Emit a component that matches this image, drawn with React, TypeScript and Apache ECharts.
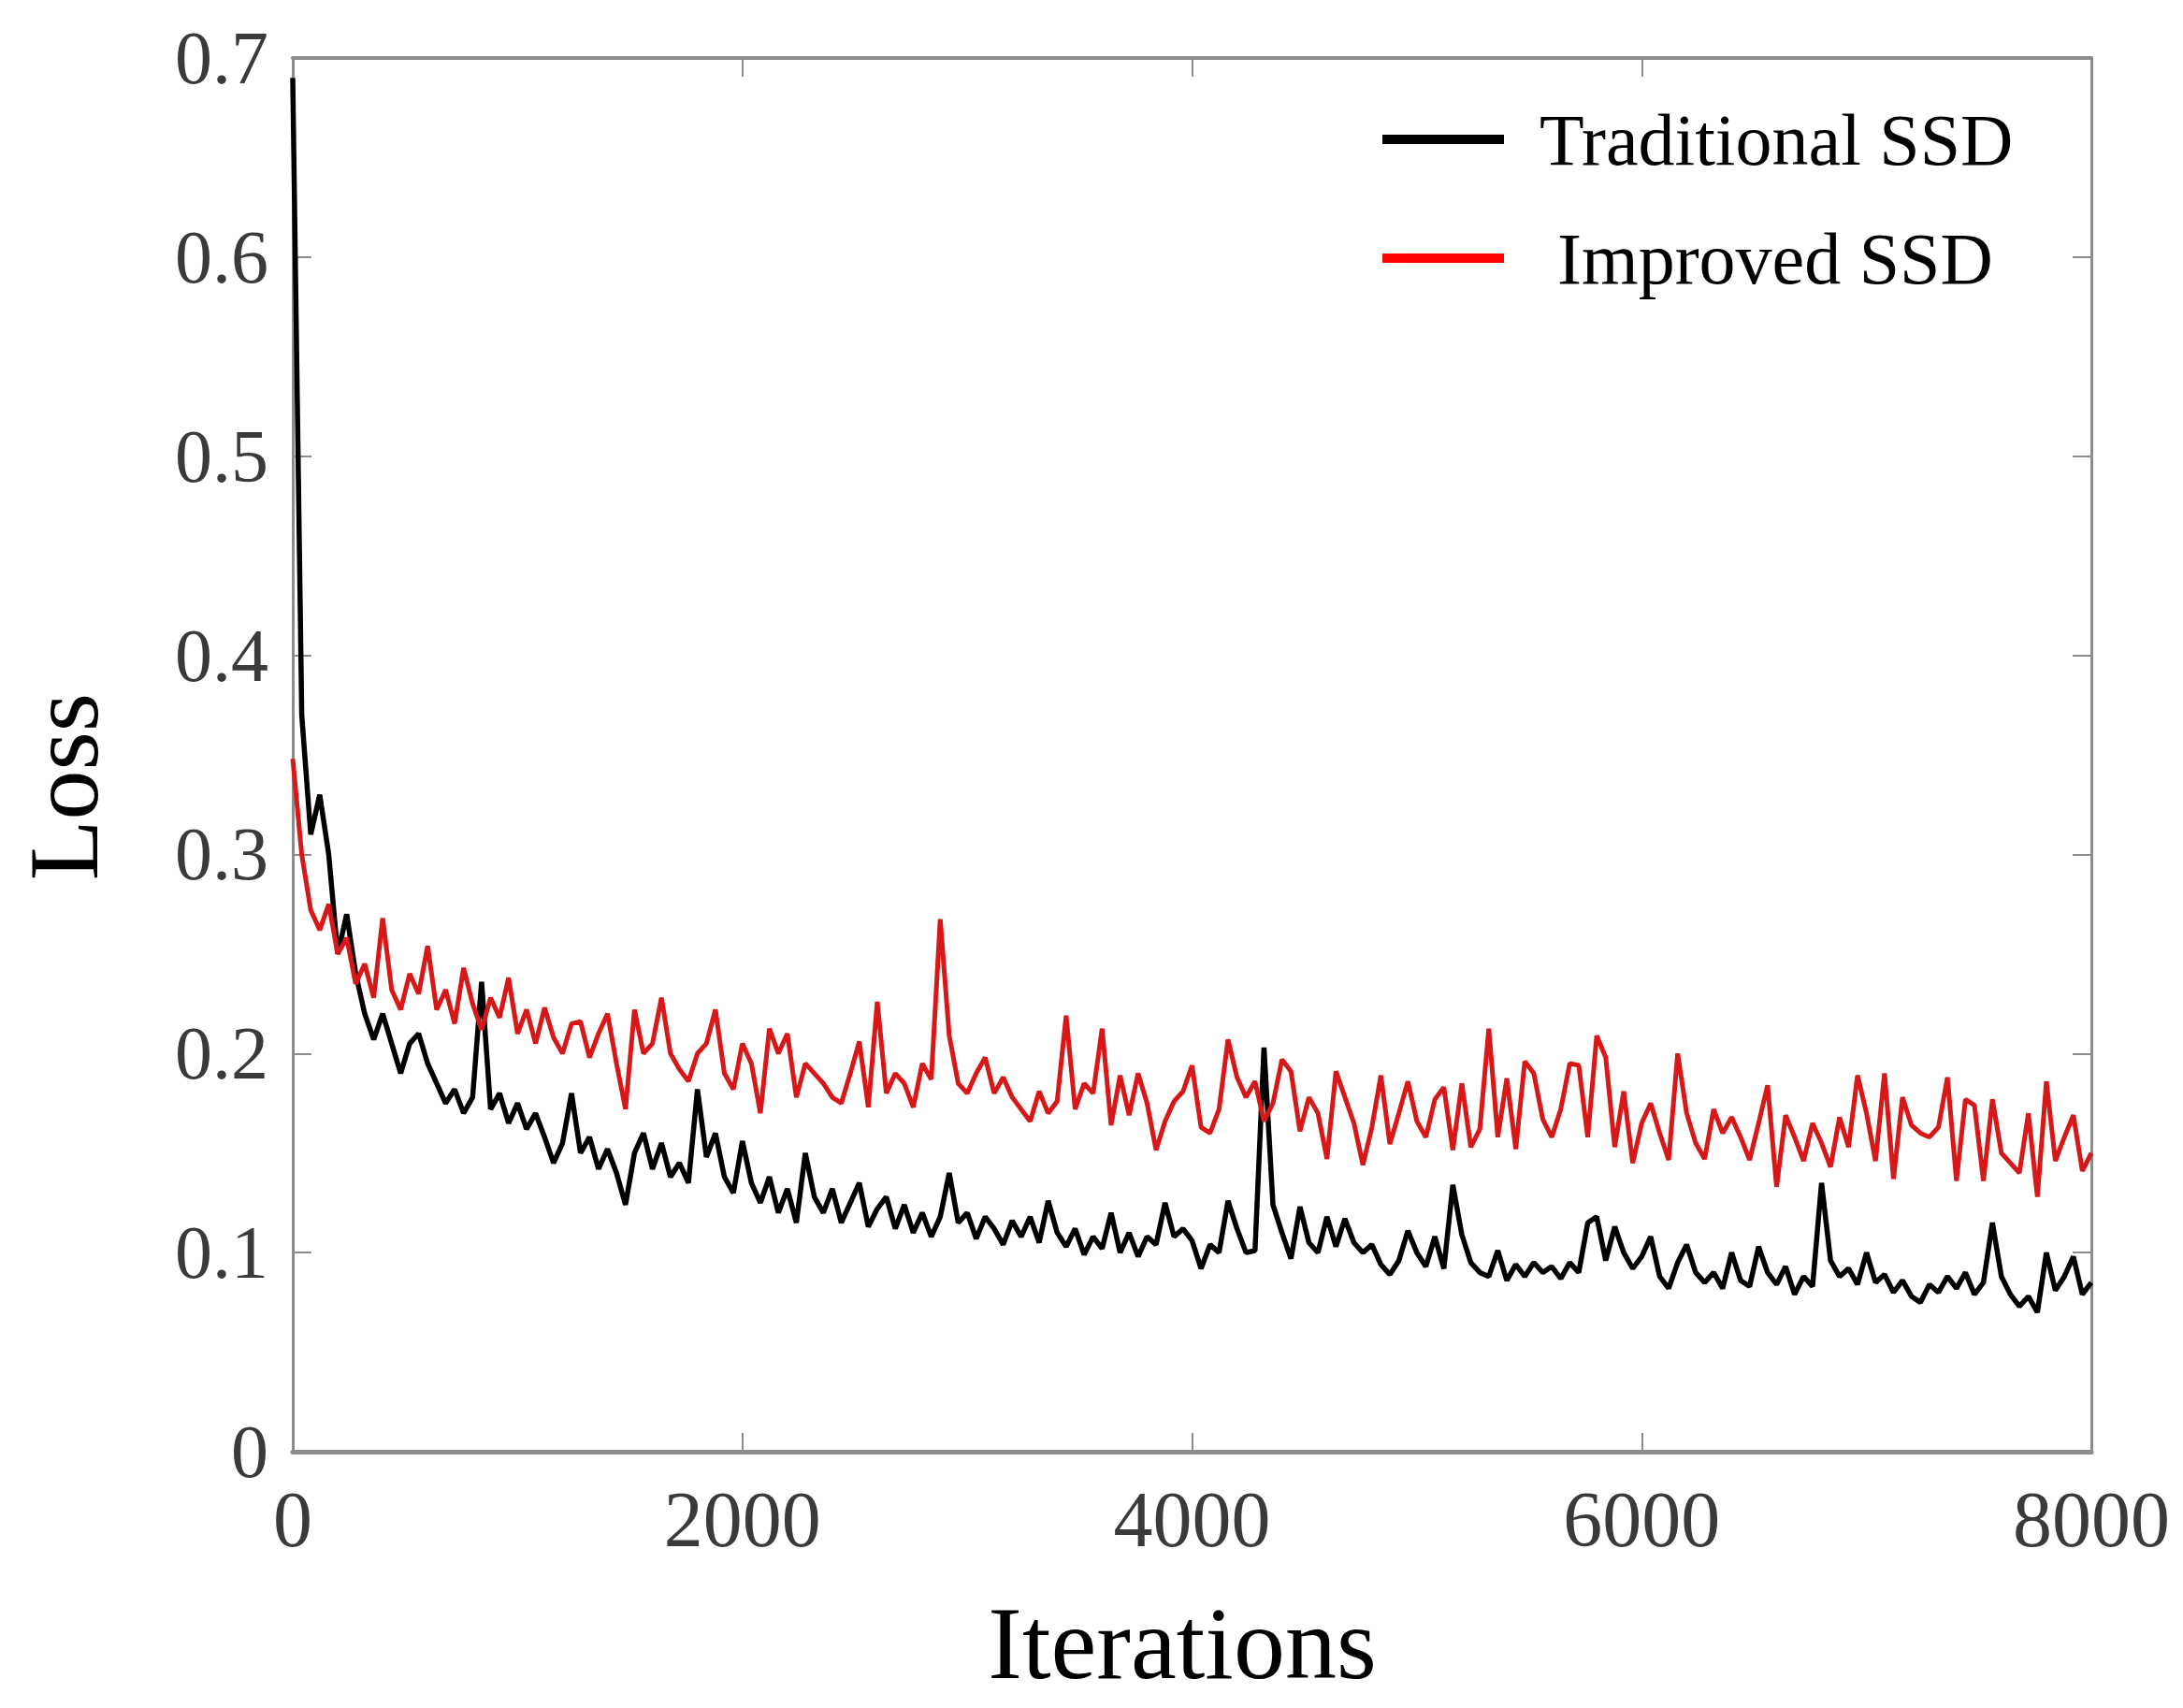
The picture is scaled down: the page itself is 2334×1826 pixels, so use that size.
import React, { useEffect, useRef } from "react";
import * as echarts from "echarts";

// Iteration step between consecutive samples
const STEP = 40;

// Traditional SSD loss, one value every 40 iterations (0 .. 8000)
const traditionalLoss = [
  0.69, 0.37, 0.31, 0.33, 0.30, 0.25, 0.27, 0.24, 0.22, 0.207,
  0.22, 0.205, 0.19, 0.205, 0.21, 0.195, 0.185, 0.175, 0.182, 0.17,
  0.178, 0.236, 0.172, 0.18, 0.165, 0.175, 0.162, 0.17, 0.158, 0.145,
  0.155, 0.18, 0.15, 0.158, 0.142, 0.152, 0.14, 0.124, 0.15, 0.16,
  0.142, 0.155, 0.138, 0.145, 0.135, 0.182, 0.148, 0.16, 0.138, 0.13,
  0.156, 0.135, 0.125, 0.138, 0.12, 0.132, 0.115, 0.15, 0.128, 0.12,
  0.132, 0.115, 0.125, 0.135, 0.113, 0.122, 0.128, 0.112, 0.124, 0.11,
  0.12, 0.108, 0.118, 0.14, 0.115, 0.12, 0.107, 0.118, 0.112, 0.104,
  0.116, 0.108, 0.118, 0.105, 0.126, 0.11, 0.103, 0.112, 0.099, 0.108,
  0.102, 0.12, 0.1, 0.11, 0.098, 0.108, 0.104, 0.125, 0.108, 0.112,
  0.106, 0.092, 0.104, 0.1, 0.126, 0.112, 0.1, 0.101, 0.203, 0.124,
  0.11, 0.097, 0.123, 0.105, 0.1, 0.118, 0.103, 0.117, 0.105, 0.1,
  0.104, 0.094, 0.089, 0.096, 0.111, 0.1, 0.093, 0.108, 0.092, 0.134,
  0.109, 0.095, 0.09, 0.088, 0.101, 0.086, 0.094, 0.088, 0.095, 0.09,
  0.093, 0.087, 0.095, 0.09, 0.115, 0.118, 0.096, 0.113, 0.1, 0.092,
  0.098, 0.108, 0.088, 0.082, 0.095, 0.104, 0.09, 0.085, 0.09, 0.082,
  0.1, 0.086, 0.083, 0.103, 0.09, 0.084, 0.093, 0.079, 0.088, 0.083,
  0.135, 0.096, 0.088, 0.092, 0.084, 0.1, 0.085, 0.089, 0.08, 0.086,
  0.078, 0.075, 0.084, 0.08, 0.088, 0.082, 0.09, 0.079, 0.085, 0.115,
  0.088, 0.079, 0.073, 0.078, 0.07, 0.1, 0.081, 0.088, 0.098, 0.079,
  0.085,
];

// Improved SSD loss, one value every 40 iterations (0 .. 8000)
const improvedLoss = [
  0.348, 0.30, 0.272, 0.262, 0.275, 0.25, 0.258, 0.235, 0.245, 0.228,
  0.268, 0.232, 0.222, 0.24, 0.23, 0.254, 0.222, 0.232, 0.215, 0.243,
  0.225, 0.212, 0.228, 0.218, 0.238, 0.21, 0.222, 0.205, 0.223, 0.208,
  0.2, 0.215, 0.216, 0.198, 0.21, 0.22, 0.195, 0.172, 0.222, 0.2,
  0.205, 0.228, 0.2, 0.192, 0.186, 0.2, 0.205, 0.222, 0.19, 0.182,
  0.205, 0.195, 0.17, 0.2125, 0.2, 0.21, 0.178, 0.195, 0.19, 0.185,
  0.178, 0.175, 0.19, 0.206, 0.173, 0.226, 0.18, 0.19, 0.185, 0.173,
  0.195, 0.187, 0.2675, 0.209, 0.185, 0.18, 0.19, 0.198, 0.18, 0.188,
  0.178, 0.172, 0.166, 0.181, 0.17, 0.176, 0.219, 0.172, 0.185, 0.18,
  0.2125, 0.164, 0.189, 0.169, 0.19, 0.175, 0.1515, 0.166, 0.176, 0.181,
  0.194, 0.163, 0.16, 0.172, 0.207, 0.188, 0.178, 0.186, 0.166, 0.175,
  0.197, 0.191, 0.161, 0.178, 0.17, 0.147, 0.191, 0.178, 0.165, 0.144,
  0.163, 0.189, 0.1545, 0.17, 0.186, 0.166, 0.158, 0.177, 0.183, 0.1515,
  0.185, 0.153, 0.162, 0.2125, 0.158, 0.1875, 0.152, 0.196, 0.19, 0.167,
  0.158, 0.172, 0.195, 0.194, 0.158, 0.209, 0.198, 0.153, 0.181, 0.145,
  0.165, 0.175, 0.16, 0.1465, 0.2, 0.17, 0.155, 0.147, 0.172, 0.16,
  0.168, 0.158, 0.1465, 0.165, 0.184, 0.133, 0.169, 0.158, 0.146, 0.165,
  0.155, 0.143, 0.168, 0.153, 0.189, 0.17, 0.146, 0.19, 0.137, 0.178,
  0.164, 0.16, 0.158, 0.163, 0.188, 0.136, 0.177, 0.174, 0.136, 0.177,
  0.15, 0.145, 0.14, 0.17, 0.128, 0.186, 0.146, 0.158, 0.169, 0.141,
  0.15,
];

const seriesNames = ["Traditional SSD", "Improved SSD"];
const xMin = 0;
const xMax = 8000;
const xInterval = 2000;
const yMin = 0;
const yMax = 0.7;
const yInterval = 0.1;
const xTitle = "Iterations";
const yTitle = "Loss";

const FONT = "'Liberation Serif', 'Times New Roman', serif";
const AXIS_GRAY = "#8c8c8c";

const toPairs = (arr: number[]) => arr.map((v, i) => [i * STEP, v]);

export default function App() {
  const ref = useRef<HTMLDivElement>(null);

  useEffect(() => {
    document.body.style.margin = "0";
    if (!ref.current) return;
    const chart = echarts.init(ref.current, undefined, { renderer: "svg" });

    const tickStyle = {
      show: true,
      inside: true,
      length: 20,
      lineStyle: { color: AXIS_GRAY, width: 2 },
    };

    chart.setOption({
      animation: false,
      backgroundColor: "#ffffff",
      grid: { left: 313, right: 98, top: 62, bottom: 274, containLabel: false },
      legend: {
        orient: "vertical",
        left: 1478,
        top: 109,
        padding: 0,
        itemWidth: 130,
        itemHeight: 10,
        itemGap: 47,
        icon: "rect",
        textStyle: {
          fontFamily: FONT,
          fontSize: 78,
          color: "#000",
          lineHeight: 80,
          padding: [0, 0, 0, 33],
        },
        data: [
          { name: seriesNames[0], itemStyle: { color: "#000000" } },
          {
            name: seriesNames[1],
            itemStyle: { color: "#ff0000" },
            textStyle: { padding: [0, 0, 0, 52] },
          },
        ],
      },
      xAxis: [
        {
          type: "value",
          position: "bottom",
          min: xMin,
          max: xMax,
          interval: xInterval,
          axisLine: { show: true, onZero: false, lineStyle: { color: AXIS_GRAY, width: 5 } },
          axisTick: tickStyle,
          splitLine: { show: false },
          axisLabel: {
            show: true,
            margin: 30,
            fontFamily: FONT,
            fontSize: 84,
            color: "#3a3a3a",
            formatter: (v: number) => String(v),
          },
        },
        {
          type: "value",
          position: "top",
          min: xMin,
          max: xMax,
          interval: xInterval,
          axisLine: { show: true, onZero: false, lineStyle: { color: AXIS_GRAY, width: 4 } },
          axisTick: tickStyle,
          splitLine: { show: false },
          axisLabel: { show: false },
        },
      ],
      yAxis: [
        {
          type: "value",
          position: "left",
          min: yMin,
          max: yMax,
          interval: yInterval,
          axisLine: { show: true, onZero: false, lineStyle: { color: AXIS_GRAY, width: 3 } },
          axisTick: tickStyle,
          splitLine: { show: false },
          axisLabel: {
            show: true,
            margin: 26,
            fontFamily: FONT,
            fontSize: 80,
            color: "#3a3a3a",
            formatter: (v: number) => (v === 0 ? "0" : v.toFixed(1)),
          },
        },
        {
          type: "value",
          position: "right",
          min: yMin,
          max: yMax,
          interval: yInterval,
          axisLine: { show: true, onZero: false, lineStyle: { color: AXIS_GRAY, width: 3 } },
          axisTick: tickStyle,
          splitLine: { show: false },
          axisLabel: { show: false },
        },
      ],
      graphic: [
        {
          type: "text",
          x: 1264,
          y: 1757,
          style: {
            text: xTitle,
            fontFamily: FONT,
            fontSize: 110,
            fill: "#000",
            align: "center",
            verticalAlign: "middle",
          },
        },
        {
          type: "text",
          x: 68,
          y: 841,
          rotation: Math.PI / 2,
          style: {
            text: yTitle,
            fontFamily: FONT,
            fontSize: 106,
            fill: "#000",
            align: "center",
            verticalAlign: "middle",
          },
        },
      ],
      series: [
        {
          name: seriesNames[0],
          type: "line",
          xAxisIndex: 0,
          yAxisIndex: 0,
          showSymbol: false,
          symbol: "none",
          itemStyle: { color: "#000000" },
          lineStyle: { color: "#000000", width: 5.5 },
          data: toPairs(traditionalLoss),
        },
        {
          name: seriesNames[1],
          type: "line",
          xAxisIndex: 0,
          yAxisIndex: 0,
          showSymbol: false,
          symbol: "none",
          itemStyle: { color: "#d81818" },
          lineStyle: { color: "#d81818", width: 5 },
          data: toPairs(improvedLoss),
        },
      ],
    });

    return () => {
      chart.dispose();
    };
  }, []);

  return <div ref={ref} style={{ width: 2334, height: 1826 }} />;
}
